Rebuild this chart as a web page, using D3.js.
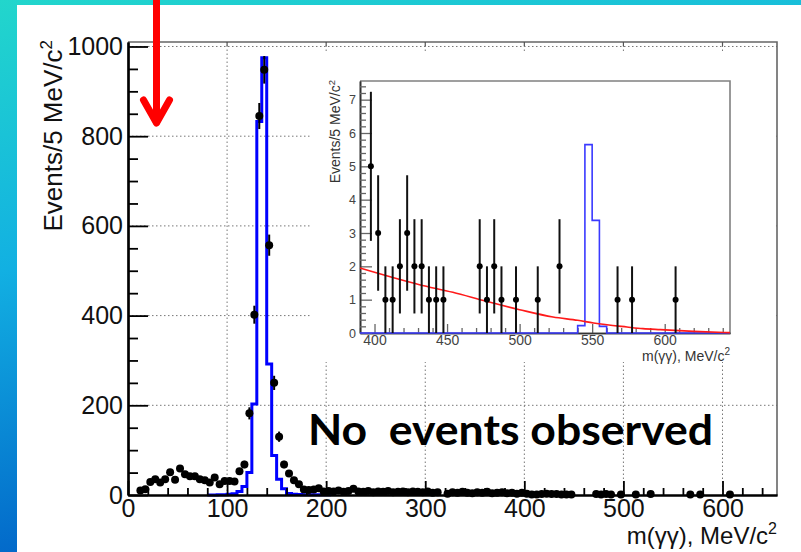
<!DOCTYPE html>
<html><head><meta charset="utf-8">
<script src="https://cdn.jsdelivr.net/npm/d3@7"></script>
<style>html,body{margin:0;padding:0;background:#fff;overflow:hidden}</style>
</head><body>
<svg id="c" width="801" height="552"></svg>
<script>
// ---------------- DATA ----------------
// main plot: data points (bin centres, MeV/c^2) and counts per 5 MeV
const mainCenters = [12.5,17.5,22.5,27.5,32.5,37.5,42.5,47.5,52.5,57.5,62.5,67.5,72.5,77.5,82.5,87.5,92.5,97.5,102.5,107.5,
  112.5,117.5,122.5,127.5,132.5,137.5,142.5,147.5,152.5,157.5,162.5,167.5,172.5,177.5,182.5,187.5,192.5,197.5,
  202.5,207.5,212.5,217.5,222.5,227.5,232.5,237.5,242.5,247.5,252.5,257.5,262.5,267.5,272.5,277.5,282.5,287.5,292.5,297.5,
  302.5,307.5,312.5,322.5,327.5,332.5,337.5,342.5,347.5,352.5,357.5,362.5,367.5,372.5,377.5,382.5,387.5,392.5,
  397.5,402.5,407.5,412.5,417.5,422.5,427.5,432.5,437.5,442.5,447.5,472.5,477.5,482.5,487.5,497.5,512.5,527.5,567.5,577.5,607.5];
const mainCounts = [10,13,29,35,28,35,51,34,59,46,42,42,35,33,28,39,24,31,31,30,
  53,68,182,402,845,948,557,250,130,68,48,33,24,12,11,12,15,8,
  9,8,10,7,9,14,8,7,9,6,8,7,9,6,7,8,6,8,7,6,
  8,5,6,3,6,5,7,5,4,6,5,7,4,5,6,4,5,3,
  5,3,1,1,2,3,2,2,1,1,1,2,1,2,1,1,1,2,1,1,1];
// main plot: blue MC histogram (bin edges and contents)
const mcEdges  = [80,90,95,100,105,110,115,120,125,130,135,140,145,150,155,160,165,170,175,185,205];
const mcValues = [0,0.3,0.6,1.5,3,8,19,50,203,833,975,292,88,35,14,3.5,1.5,1,0.5,0.3];
const mainXTicks = [0,100,200,300,400,500,600];
const mainYTicks = [0,200,400,600,800,1000];

// inset: data points
const insetCenters = [397.5,402.5,407.5,412.5,417.5,422.5,427.5,432.5,437.5,442.5,447.5,472.5,477.5,482.5,487.5,497.5,512.5,527.5,567.5,577.5,607.5];
const insetCounts  = [5,3,1,1,2,3,2,2,1,1,1,2,1,2,1,1,1,2,1,1,1];
// inset: blue signal MC histogram
const insetMcEdges  = [390,540,545,550,555,560,645];
const insetMcValues = [0,0.22,5.65,3.38,0.2,0];
// inset: red background fit
const insetFitX = [390,431,454,477,500,523,540,551,574,585,597,620,645];
const insetFitY = [1.95,1.45,1.22,0.95,0.70,0.48,0.38,0.30,0.18,0.13,0.10,0.05,0.01];
const insetXTicks = [400,450,500,550,600];
const insetYTicks = [0,1,2,3,4,5,6,7];

// ---------------- DRAW ----------------
const svg = d3.select("#c");
const defs = svg.append("defs");
const g = defs.append("linearGradient").attr("id","bg").attr("x1",0).attr("y1",0).attr("x2",0.3).attr("y2",1);
g.append("stop").attr("offset",0).attr("stop-color","#22d6cc");
g.append("stop").attr("offset",0.45).attr("stop-color","#12b0e2");
g.append("stop").attr("offset",1).attr("stop-color","#005ec6");
svg.append("rect").attr("width",801).attr("height",552).attr("fill","url(#bg)");
svg.append("rect").attr("x",17).attr("y",5).attr("width",784).attr("height",547).attr("fill","#fff");

const FONT = "'Liberation Sans', Arial, Helvetica, sans-serif";
const x = d3.scaleLinear().domain([0,655]).range([128,777]);
const y = d3.scaleLinear().domain([0,1010]).range([495,42]);

// grid
const grid = svg.append("g").attr("stroke","#777").attr("stroke-width",1).attr("stroke-dasharray","1.5,2.5");
grid.selectAll("line.v").data(mainXTicks.slice(1)).join("line").attr("class","v")
  .attr("x1",d=>x(d)).attr("x2",d=>x(d)).attr("y1",y(0)).attr("y2",y(1010));
grid.selectAll("line.h").data(mainYTicks.slice(1)).join("line").attr("class","h")
  .attr("y1",d=>y(d)).attr("y2",d=>y(d)).attr("x1",x(0)).attr("x2",x(655));

// main data: MC histogram
const stepPts = (edges, vals) => edges.map((e,i)=>[e, i<vals.length ? vals[i] : vals[vals.length-1]]);
svg.append("path").datum(stepPts(mcEdges, mcValues))
  .attr("fill","none").attr("stroke","#0000ff").attr("stroke-width",3)
  .attr("d", d3.line().x(d=>x(d[0])).y(d=>y(d[1])).curve(d3.curveStepAfter));

// main data points
const mainPts = mainCenters.map((c,i)=>({c, n: mainCounts[i]}));
svg.append("g").selectAll("line").data(mainPts).join("line")
  .attr("x1",d=>x(d.c)).attr("x2",d=>x(d.c))
  .attr("y1",d=>y(d.n - Math.sqrt(d.n))).attr("y2",d=>y(d.n + Math.sqrt(d.n)))
  .attr("stroke","#000").attr("stroke-width",2);
svg.append("g").selectAll("circle").data(mainPts).join("circle")
  .attr("cx",d=>x(d.c)).attr("cy",d=>y(d.n)).attr("r",4).attr("fill","#000");

// inset pad background
svg.append("rect").attr("x",312).attr("y",52).attr("width",464).attr("height",310).attr("fill","#fff");

// main frame
svg.append("path").attr("d",`M${x(0)},${y(1010)}H${x(655)}V${y(0)}`)
  .attr("fill","none").attr("stroke","#666").attr("stroke-width",1.6);
svg.append("g").selectAll("line").data(mainXTicks.slice(1)).join("line")
  .attr("x1",d=>x(d)).attr("x2",d=>x(d)).attr("y1",y(1010)).attr("y2",y(1010)+4)
  .attr("stroke","#555").attr("stroke-width",1.2);

// main axes
const ax = svg.append("g").attr("transform",`translate(0,${y(0)})`)
  .call(d3.axisBottom(x).tickValues(mainXTicks).tickSizeInner(-14).tickSizeOuter(0).tickPadding(4).tickFormat(d3.format("d")));
svg.append("g").attr("transform",`translate(0,${y(0)})`)
  .call(d3.axisBottom(x).tickValues(d3.range(20,655,20).filter(v=>v%100)).tickSizeInner(-7).tickSizeOuter(0).tickFormat(""));
const ay = svg.append("g").attr("transform",`translate(${x(0)},0)`)
  .call(d3.axisLeft(y).tickValues(mainYTicks).tickSizeInner(-20).tickSizeOuter(0).tickPadding(5).tickFormat(d3.format("d")));
svg.append("g").attr("transform",`translate(${x(0)},0)`)
  .call(d3.axisLeft(y).tickValues(d3.range(50,1010,50).filter(v=>v%200)).tickSizeInner(-10).tickSizeOuter(0).tickFormat(""));
svg.selectAll(".domain").attr("stroke","#000").attr("stroke-width",2.2);
svg.selectAll(".tick line").attr("stroke","#000").attr("stroke-width",1.8);
[ax,ay].forEach(a=>a.selectAll("text").attr("font-family",FONT).attr("font-size",25).attr("fill","#111"));

// main axis titles
const yt = svg.append("text").attr("transform","translate(62,40) rotate(-90)").attr("text-anchor","end")
  .attr("font-family",FONT).attr("font-size",26).attr("fill","#111").text("Events/5 MeV/c");
yt.append("tspan").attr("dy",-10).attr("font-size",17).text("2");
const xt = svg.append("text").attr("x",777).attr("y",544).attr("text-anchor","end")
  .attr("font-family",FONT).attr("font-size",24).attr("fill","#111").text("m(\u03b3\u03b3), MeV/c");
xt.append("tspan").attr("dy",-10).attr("font-size",16).text("2");

// ---------------- INSET ----------------
const xi = d3.scaleLinear().domain([390,645]).range([360,730]);
const yi = d3.scaleLinear().domain([0,7.56]).range([333,81]);
const ins = svg.append("g");
ins.append("path").attr("d",`M${xi(390)},${yi(7.56)}H${xi(645)}V${yi(0)}`)
  .attr("fill","none").attr("stroke","#808080").attr("stroke-width",1.6);

const iax = ins.append("g").attr("transform",`translate(0,${yi(0)})`)
  .call(d3.axisBottom(xi).tickValues(insetXTicks).tickSizeInner(-9).tickSizeOuter(0).tickPadding(2).tickFormat(d3.format("d")));
const iaxm = ins.append("g").attr("transform",`translate(0,${yi(0)})`)
  .call(d3.axisBottom(xi).tickValues(d3.range(390,646,10).filter(v=>v%50)).tickSizeInner(-5).tickSizeOuter(0).tickFormat(""));
const iay = ins.append("g").attr("transform",`translate(${xi(390)},0)`)
  .call(d3.axisLeft(yi).tickValues(insetYTicks).tickSizeInner(-12).tickSizeOuter(0).tickPadding(4).tickFormat(d3.format("d")));
const iaym = ins.append("g").attr("transform",`translate(${xi(390)},0)`)
  .call(d3.axisLeft(yi).tickValues(d3.range(0.2,7.56,0.2).filter(v=>Math.abs(v-Math.round(v))>0.05)).tickSizeInner(-6).tickSizeOuter(0).tickFormat(""));
[iax,iaxm,iay,iaym].forEach(a=>{
  a.select(".domain").attr("stroke","#333").attr("stroke-width",1.6);
  a.selectAll(".tick line").attr("stroke","#666").attr("stroke-width",1.3);
});
iax.selectAll("text").attr("font-family",FONT).attr("font-size",14).attr("fill","#444");
iay.selectAll("text").attr("font-family",FONT).attr("font-size",12.5).attr("fill","#444");

// inset blue MC
ins.append("path").datum(stepPts(insetMcEdges, insetMcValues))
  .attr("fill","none").attr("stroke","#3a3aff").attr("stroke-width",1.6)
  .attr("d", d3.line().x(d=>xi(d[0])).y(d=>yi(d[1])).curve(d3.curveStepAfter));
// inset red fit
ins.append("path").datum(insetFitX.map((v,i)=>[v, insetFitY[i]]))
  .attr("fill","none").attr("stroke","#ff1a1a").attr("stroke-width",1.6)
  .attr("d", d3.line().x(d=>xi(d[0])).y(d=>yi(d[1])).curve(d3.curveMonotoneX));
// inset points
const insPts = insetCenters.map((c,i)=>({c, n: insetCounts[i]}));
ins.append("g").selectAll("line").data(insPts).join("line")
  .attr("x1",d=>xi(d.c)).attr("x2",d=>xi(d.c))
  .attr("y1",d=>yi(Math.max(0,d.n - Math.sqrt(d.n)))).attr("y2",d=>yi(d.n + Math.sqrt(d.n)))
  .attr("stroke","#111").attr("stroke-width",2);
ins.append("g").selectAll("circle").data(insPts).join("circle")
  .attr("cx",d=>xi(d.c)).attr("cy",d=>yi(d.n)).attr("r",3).attr("fill","#000");

// inset titles
const iyt = ins.append("text").attr("transform","translate(340,80) rotate(-90)").attr("text-anchor","end")
  .attr("font-family",FONT).attr("font-size",14).attr("fill","#333").text("Events/5 MeV/c");
iyt.append("tspan").attr("dy",-5).attr("font-size",9.5).text("2");
const ixt = ins.append("text").attr("x",730).attr("y",361).attr("text-anchor","end")
  .attr("font-family",FONT).attr("font-size",14).attr("fill","#333").text("m(\u03b3\u03b3), MeV/c");
ixt.append("tspan").attr("dy",-6).attr("font-size",10).text("2");

// annotation text
svg.append("text").attr("x",308).attr("y",445)
  .attr("font-family","Lato, 'Open Sans', sans-serif").attr("font-weight",700).attr("font-size",42)
  .attr("fill","#000").attr("textLength",405).attr("lengthAdjust","spacingAndGlyphs")
  .style("white-space","pre").text("No  events observed");

// red arrow
const arrow = svg.append("g").attr("stroke","#ff0000").attr("stroke-width",7)
  .attr("fill","none").attr("stroke-linecap","round").attr("stroke-linejoin","round");
arrow.append("line").attr("x1",156.5).attr("x2",156.5).attr("y1",-4).attr("y2",122);
arrow.append("path").attr("d","M143.5,100 L156.5,123 L169.5,100");
</script>
</body></html>
